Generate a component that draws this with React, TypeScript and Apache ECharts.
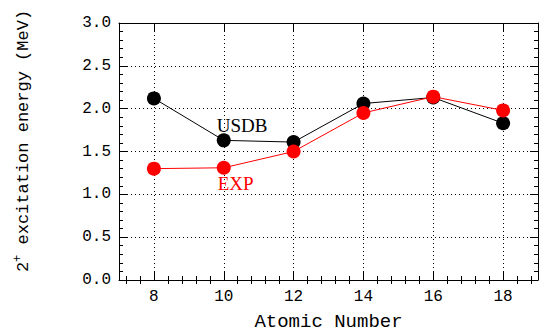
import React, { useEffect, useRef } from "react";
import * as echarts from "echarts";

const atomicNumbers = [8, 10, 12, 14, 16, 18];
const usdbValues = [2.12, 1.63, 1.61, 2.06, 2.13, 1.83];
const expValues = [1.30, 1.31, 1.50, 1.95, 2.14, 1.98];
const xMajorTicks = [8, 10, 12, 14, 16, 18];
const xTickLabels = ["8", "10", "12", "14", "16", "18"];
const xMinorTicks = [
  7.2, 7.6, 8.4, 8.8, 9.2, 9.6, 10.4, 10.8, 11.2, 11.6, 12.4, 12.8,
  13.2, 13.6, 14.4, 14.8, 15.2, 15.6, 16.4, 16.8, 17.2, 17.6, 18.4, 18.8,
];
const yTickLabels = ["0.0", "0.5", "1.0", "1.5", "2.0", "2.5", "3.0"];

const MONO = "Liberation Mono";
const SERIF = "Liberation Serif";

export default function App() {
  const ref = useRef<HTMLDivElement>(null);
  useEffect(() => {
    if (!ref.current) return;
    const chart = echarts.init(ref.current, null, { renderer: "svg" });
    const black = { color: "#000", width: 1 };
    const line = { show: true, onZero: false, lineStyle: black };
    const dotted = { show: true, lineStyle: { color: "#000", type: [1, 3], width: 1 } };
    const xBase = { type: "value", min: 7, max: 19, interval: 1 };

    const usdbData = atomicNumbers.map((x, i) => {
      const item: any = { value: [x, usdbValues[i]] };
      if (i === 1) {
        item.label = {
          show: true,
          formatter: "USDB",
          position: [0, -17],
          color: "#000",
          fontFamily: SERIF,
          fontSize: 19,
        };
      }
      return item;
    });
    const expData = atomicNumbers.map((x, i) => {
      const item: any = { value: [x, expValues[i]] };
      if (i === 1) {
        item.label = {
          show: true,
          formatter: "EXP",
          position: [1, 13],
          color: "#ff0000",
          fontFamily: SERIF,
          fontSize: 19,
        };
      }
      return item;
    });

    chart.setOption({
      animation: false,
      backgroundColor: "#fff",
      grid: { left: 119, right: 1, top: 23, bottom: 52, outerBoundsMode: "none" },
      xAxis: [
        {
          ...xBase,
          position: "bottom",
          axisLine: line,
          axisTick: { show: true, inside: true, length: 8, lineStyle: black, customValues: xMajorTicks },
          minorTick: { show: false },
          axisLabel: {
            color: "#000",
            fontFamily: MONO,
            fontSize: 16,
            margin: 9,
            customValues: xMajorTicks,
            formatter: (v: number) => {
              const i = xMajorTicks.indexOf(v);
              return i >= 0 ? xTickLabels[i] : "";
            },
          },
          splitLine: dotted,
          name: "Atomic Number",
          nameLocation: "middle",
          nameGap: 32,
          nameTextStyle: { color: "#000", fontFamily: MONO, fontSize: 19, verticalAlign: "top" },
        },
        {
          ...xBase,
          position: "bottom",
          axisLine: { show: false },
          axisTick: { show: true, inside: true, length: 4, lineStyle: black, customValues: xMinorTicks },
          axisLabel: { show: false },
          splitLine: { show: false },
        },
        {
          ...xBase,
          position: "top",
          axisLine: line,
          axisTick: { show: true, inside: true, length: 8, lineStyle: black, customValues: xMajorTicks },
          axisLabel: { show: false },
          splitLine: { show: false },
        },
        {
          ...xBase,
          position: "top",
          axisLine: { show: false },
          axisTick: { show: true, inside: true, length: 4, lineStyle: black, customValues: xMinorTicks },
          axisLabel: { show: false },
          splitLine: { show: false },
        },
      ],
      yAxis: [
        {
          type: "value",
          min: 0,
          max: 3,
          interval: 0.5,
          axisLine: line,
          axisTick: { show: true, inside: true, length: 8, lineStyle: black },
          minorTick: { show: true, splitNumber: 5, length: 4, lineStyle: black },
          axisLabel: {
            color: "#000",
            fontFamily: MONO,
            fontSize: 16,
            margin: 8,
            formatter: (v: number) => yTickLabels[Math.round(v / 0.5)] ?? "",
          },
          splitLine: dotted,
        },
        {
          type: "value",
          position: "right",
          min: 0,
          max: 3,
          interval: 0.5,
          axisLine: line,
          axisTick: { show: true, inside: true, length: 8, lineStyle: black },
          minorTick: { show: true, splitNumber: 5, length: 4, lineStyle: black },
          axisLabel: { show: false },
          splitLine: { show: false },
        },
      ],
      graphic: [
        {
          type: "text",
          x: 23,
          y: 141,
          rotation: Math.PI / 2,
          style: {
            text: "2{sup|+} excitation energy (MeV)",
            fill: "#000",
            fontFamily: MONO,
            fontSize: 17,
            align: "center",
            verticalAlign: "middle",
            rich: {
              sup: { fontFamily: MONO, fontSize: 12, fill: "#000", padding: [0, 0, 10, 0] },
            },
          },
        },
      ],
      series: [
        {
          type: "line",
          data: usdbData,
          symbol: "circle",
          symbolSize: 14,
          lineStyle: { color: "#000", width: 1 },
          itemStyle: { color: "#000" },
          z: 3,
        },
        {
          type: "line",
          data: expData,
          symbol: "circle",
          symbolSize: 14,
          lineStyle: { color: "#ff0000", width: 1 },
          itemStyle: { color: "#ff0000" },
          z: 4,
        },
      ],
    });
    return () => chart.dispose();
  }, []);
  return <div ref={ref} style={{ width: 539, height: 332, position: "absolute", left: 0, top: 0 }} />;
}
